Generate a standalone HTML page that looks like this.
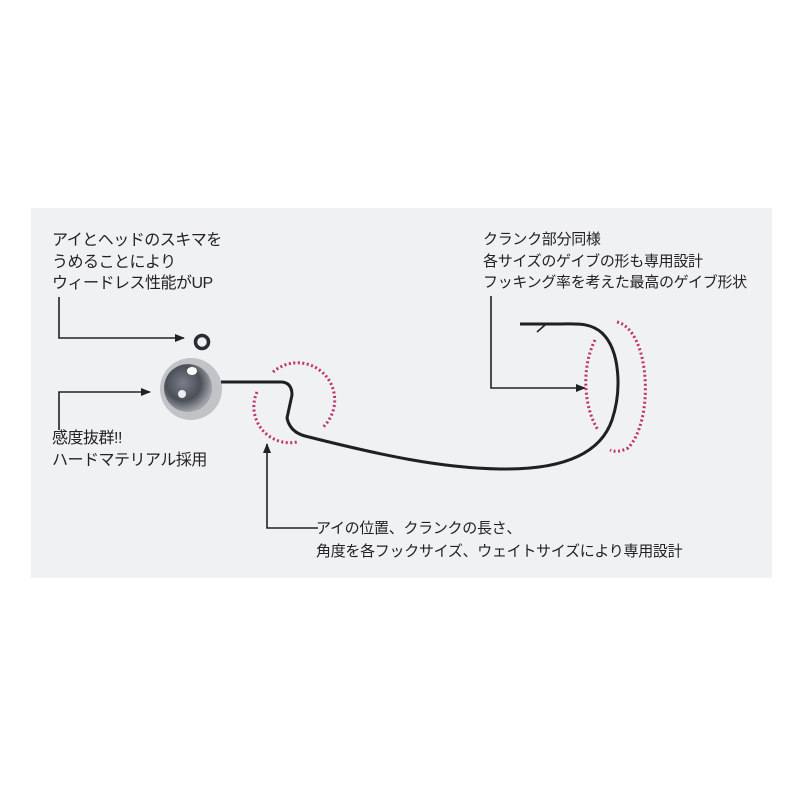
<!DOCTYPE html>
<html><head><meta charset="utf-8"><style>
body{margin:0;width:800px;height:800px;background:#fff;position:relative;overflow:hidden;font-family:"Liberation Sans","Noto Sans CJK JP",sans-serif;}
#panel{position:absolute;left:31px;top:208px;width:741px;height:370px;background:#f0f1f3;}
.t{position:absolute;font-size:15px;line-height:21.5px;color:#222;white-space:nowrap;letter-spacing:-0.3px}
svg{position:absolute;left:0;top:0}
</style></head><body>
<div id="panel"></div>
<svg width="800" height="800">
<defs>
<radialGradient id="g" cx="0.4" cy="0.4" r="0.6">
<stop offset="0" stop-color="#7a7e88"/><stop offset="0.6" stop-color="#4b4f58"/><stop offset="1" stop-color="#a0a2a8"/></radialGradient>
<marker id="a" markerWidth="10" markerHeight="8" refX="9" refY="4" orient="auto" markerUnits="userSpaceOnUse"><path d="M0,0 L10,4 L0,8 Z" fill="#222"/></marker>
</defs>
<g fill="none" stroke="#222" stroke-width="1.6">
<path d="M59,297 V338 H184" marker-end="url(#a)"/>
<path d="M59,430 V392 H150" marker-end="url(#a)"/>
<path d="M491,296 V388 H585" marker-end="url(#a)"/>
<path d="M318,528 H267 V444" marker-end="url(#a)"/>
</g>
<circle cx="202" cy="342" r="6.5" fill="none" stroke="#2a2c30" stroke-width="3.5"/>
<circle cx="191" cy="389" r="31" fill="#c2c3c7"/>
<circle cx="188" cy="388" r="24" fill="url(#g)"/>
<ellipse cx="192" cy="371" rx="5" ry="4" fill="#fff"/>
<ellipse cx="182" cy="394" rx="4" ry="4" fill="#eee"/>
<path d="M221,382 H282 Q292,383 292,395 L287,418 Q290,432 305,436 C380,455 440,468 500,469 C560,470 600,455 612,420 C622,390 620,350 602,333 C590,322 575,324 560,324 L520,324" fill="none" stroke="#1e2024" stroke-width="3"/>
<path d="M545,325 L537,332" stroke="#1e2024" stroke-width="1.5"/>
<g fill="none" stroke="#c2306e" stroke-width="3" stroke-dasharray="2 2.5">
<path d="M273,372 A35,35 0 0 1 322,428"/>
<path d="M257,392 A36,36 0 0 0 297,442"/>
<path d="M617,322 C650,330 655,420 628,448 C620,452 615,452 610,450"/>
<path d="M595,340 C580,370 585,410 598,430"/>
</g>
</svg>
<div class="t" style="left:52px;top:230px;font-size:16px;letter-spacing:-0.5px">アイとヘッドのスキマを<br>うめることにより<br>ウィードレス性能がUP</div>
<div class="t" style="left:52px;top:428px;font-size:16px;letter-spacing:-0.5px">感度抜群!!<br>ハードマテリアル採用</div>
<div class="t" style="left:483px;top:229px">クランク部分同様<br>各サイズのゲイブの形も専用設計<br>フッキング率を考えた最高のゲイブ形状</div>
<div class="t" style="left:316px;top:517px;line-height:23px">アイの位置、クランクの長さ、<br>角度を各フックサイズ、ウェイトサイズにより専用設計</div>
</body></html>
